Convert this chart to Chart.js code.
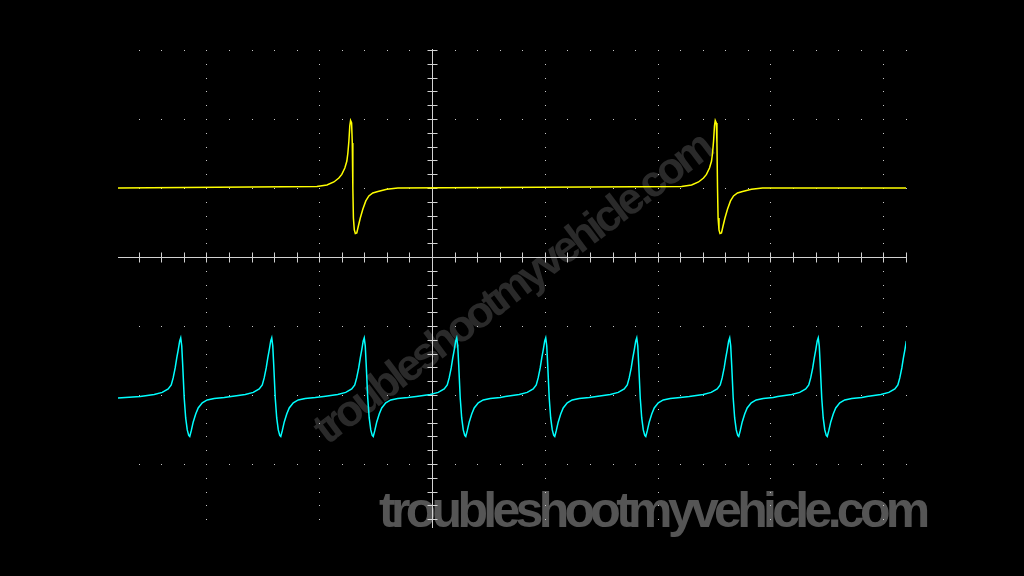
<!DOCTYPE html>
<html>
<head>
<meta charset="utf-8">
<script src="https://cdn.jsdelivr.net/npm/chart.js@4.4.1/dist/chart.umd.min.js"></script>
<style>
    html, body { margin: 0; padding: 0; background: #000; }
    #chart-container { width: 1024px; height: 576px; position: relative; }
</style>
</head>
<body>
<div id="chart-container"><canvas id="myChart"></canvas></div>
<script>
// screen in divisions, centre of the crosshair is 0,0
var xMin = -2.784, xMax = 4.202;
var yMin = -3.928, yMax = 3.014;
var gridX = [-2, -1, 1, 2, 3, 4];
var gridY = [-3, -2, -1, 1, 2, 3];
var minorStep = 0.2;

// channel 1 (yellow): baseline and the time of each pulse (zero crossing)
var yellowBase = 1.0;
var yellowPulses = [-0.702, 2.531];
var yellowDx = [-0.319, -0.230, -0.168, -0.124, -0.098, -0.071, -0.053, -0.044, -0.035, -0.027, -0.020, -0.011, -0.005, 0, 0.005, 0.013, 0.022, 0.035, 0.049, 0.066, 0.089, 0.115, 0.142, 0.177, 0.222, 0.301, 0.399];
var yellowDy = [0.022, 0.043, 0.087, 0.145, 0.196, 0.290, 0.391, 0.507, 0.681, 0.899, 0.978, 0.942, 0.652, 0, -0.435, -0.609, -0.659, -0.652, -0.551, -0.435, -0.304, -0.188, -0.116, -0.072, -0.051, -0.019, 0];

// channel 2 (cyan)
var cyanBase = -2.043;
var cyanPulses = [-2.197, -1.390, -0.570, 0.250, 1.039, 1.846, 2.670, 3.455, 4.245];
var cyanDx = [-0.390, -0.266, -0.195, -0.142, -0.115, -0.098, -0.080, -0.066, -0.053, -0.040, -0.031, -0.022, -0.013, 0, 0.013, 0.027, 0.040, 0.049, 0.062, 0.080, 0.102, 0.124, 0.160, 0.204, 0.266, 0.355];
var cyanDy = [0.022, 0.051, 0.080, 0.130, 0.188, 0.290, 0.435, 0.580, 0.696, 0.826, 0.870, 0.754, 0.464, 0, -0.290, -0.464, -0.543, -0.558, -0.478, -0.348, -0.232, -0.145, -0.072, -0.029, -0.007, 0.007];

var watermark = "troubleshootmyvehicle.com";

function buildTrace(base, pulses, dx, dy) {
    var pts = [{ x: xMin, y: base }];
    for (var p = 0; p < pulses.length; p++) {
        for (var i = 0; i < dx.length; i++) {
            pts.push({ x: pulses[p] + dx[i], y: base + dy[i] });
        }
    }
    var last = pts[pts.length - 1];
    if (last.x < xMax) pts.push({ x: xMax, y: base });
    return pts;
}

var scopePlugin = {
    id: 'scope',
    beforeDatasetsDraw: function (chart) {
        var ctx = chart.ctx;
        var xs = chart.scales.x, ys = chart.scales.y;
        var area = chart.chartArea;
        ctx.save();

        // watermarks, under everything else
        ctx.fillStyle = '#2a2a2a';
        ctx.font = 'bold 44px "Liberation Sans", Arial, sans-serif';
        ctx.letterSpacing = '-4px';
        ctx.textAlign = 'center';
        ctx.textBaseline = 'middle';
        ctx.translate(513, 290);
        ctx.rotate(-37 * Math.PI / 180);
        ctx.fillText(watermark, 0, 0);
        ctx.setTransform(1, 0, 0, 1, 0, 0);

        ctx.fillStyle = '#555555';
        ctx.font = 'bold 50px "Liberation Sans", Arial, sans-serif';
        ctx.letterSpacing = '-4.7px';
        ctx.textAlign = 'left';
        ctx.textBaseline = 'alphabetic';
        ctx.fillText(watermark, 379, 527);
        ctx.letterSpacing = '0px';

        // dotted graticule
        ctx.fillStyle = '#c8c8c8';
        var v, k, px, py;
        for (k = 0; k < gridX.length; k++) {
            px = Math.round(xs.getPixelForValue(gridX[k]));
            for (v = Math.ceil(yMin / minorStep) * minorStep; v <= yMax; v += minorStep) {
                py = Math.round(ys.getPixelForValue(v));
                ctx.fillRect(px, py, 1, 1);
            }
        }
        for (k = 0; k < gridY.length; k++) {
            py = Math.round(ys.getPixelForValue(gridY[k]));
            for (v = Math.ceil(xMin / minorStep) * minorStep; v <= xMax; v += minorStep) {
                px = Math.round(xs.getPixelForValue(v));
                ctx.fillRect(px, py, 1, 1);
            }
        }

        // centre crosshair with ticks
        var cx = Math.round(xs.getPixelForValue(0)) + 0.5;
        var cy = Math.round(ys.getPixelForValue(0)) + 0.5;
        ctx.strokeStyle = '#d2d2d2';
        ctx.lineWidth = 1;
        ctx.beginPath();
        ctx.moveTo(cx, area.top);
        ctx.lineTo(cx, area.bottom);
        ctx.moveTo(area.left, cy);
        ctx.lineTo(area.right, cy);
        for (v = Math.ceil(yMin / minorStep) * minorStep; v <= yMax; v += minorStep) {
            py = Math.round(ys.getPixelForValue(v)) + 0.5;
            ctx.moveTo(cx - 5, py);
            ctx.lineTo(cx + 5, py);
        }
        for (v = Math.ceil(xMin / minorStep) * minorStep; v <= xMax; v += minorStep) {
            px = Math.round(xs.getPixelForValue(v)) + 0.5;
            ctx.moveTo(px, cy - 5);
            ctx.lineTo(px, cy + 5);
        }
        ctx.stroke();
        ctx.restore();
    }
};

var ctx = document.getElementById('myChart');
var myChart = new Chart(ctx, {
    type: 'line',
    data: {
        datasets: [{
            label: 'CH1',
            data: buildTrace(yellowBase, yellowPulses, yellowDx, yellowDy),
            borderColor: '#ffff00',
            borderWidth: 1.5
        }, {
            label: 'CH2',
            data: buildTrace(cyanBase, cyanPulses, cyanDx, cyanDy),
            borderColor: '#00ffff',
            borderWidth: 1.5
        }]
    },
    options: {
        responsive: true,
        maintainAspectRatio: false,
        animation: false,
        events: [],
        layout: { padding: { left: 118, right: 118, top: 49, bottom: 48 } },
        elements: { point: { radius: 0 }, line: { tension: 0 } },
        scales: {
            x: { type: 'linear', min: xMin, max: xMax, display: false },
            y: { type: 'linear', min: yMin, max: yMax, display: false }
        },
        plugins: {
            legend: { display: false },
            tooltip: { enabled: false }
        }
    },
    plugins: [scopePlugin]
});
</script>
</body>
</html>
